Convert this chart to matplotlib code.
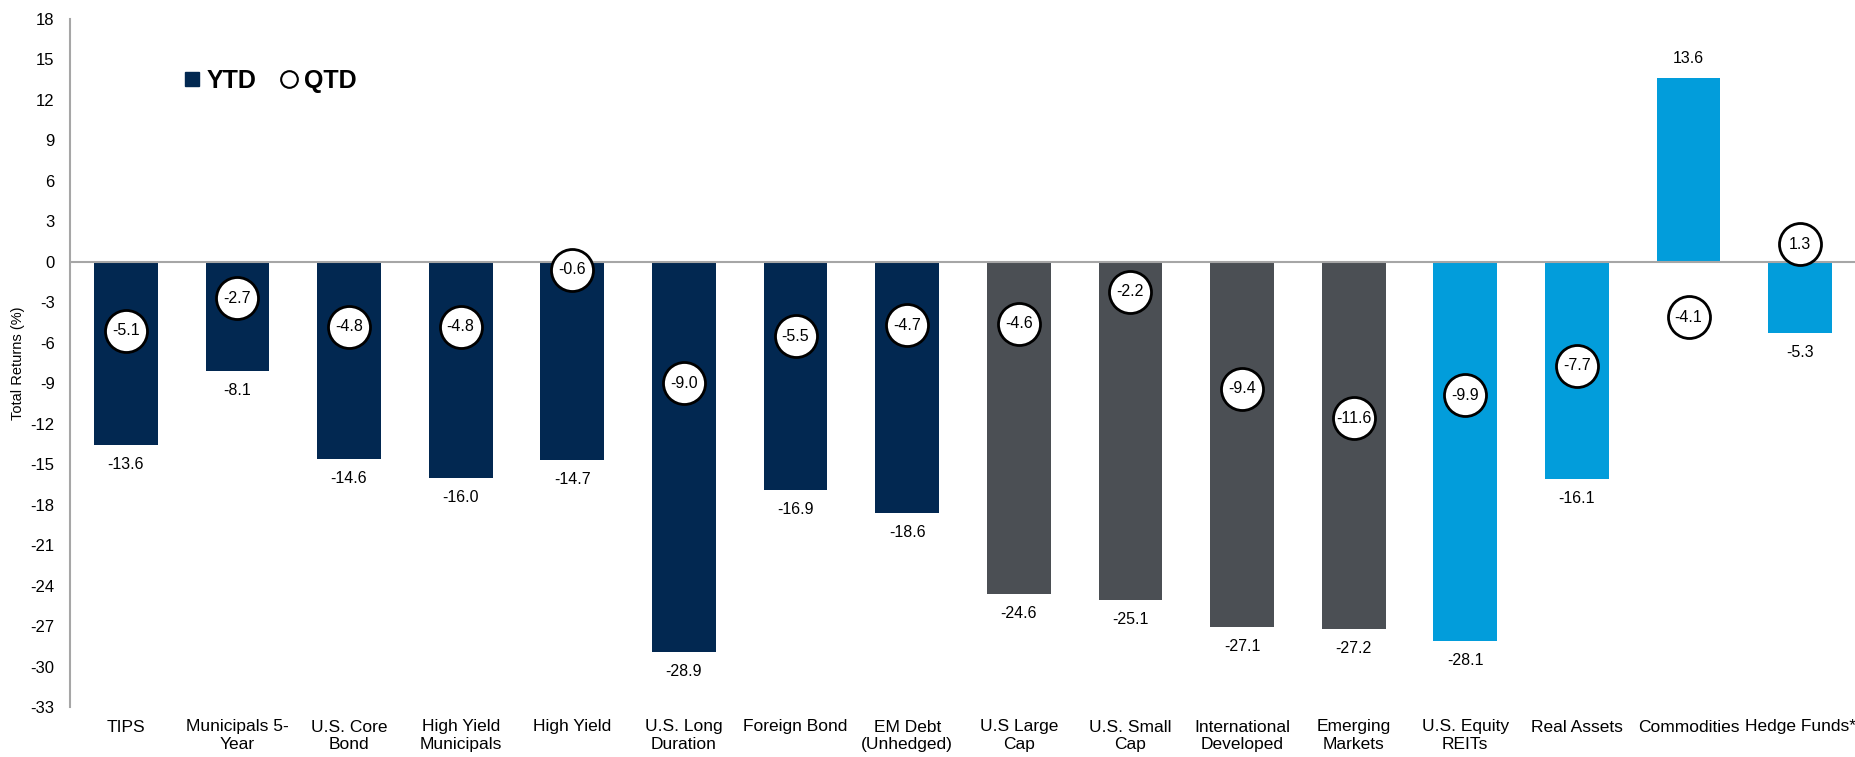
import matplotlib
matplotlib.use("Agg")
import matplotlib.pyplot as plt
from matplotlib.lines import Line2D

plt.rcParams['font.family'] = ['Liberation Sans', 'DejaVu Sans']

categories = ["TIPS", "Municipals 5-\nYear", "U.S. Core\nBond", "High Yield\nMunicipals",
              "High Yield", "U.S. Long\nDuration", "Foreign Bond", "EM Debt\n(Unhedged)",
              "U.S Large\nCap", "U.S. Small\nCap", "International\nDeveloped", "Emerging\nMarkets",
              "U.S. Equity\nREITs", "Real Assets", "Commodities", "Hedge Funds*"]
ytd = [-13.6, -8.1, -14.6, -16.0, -14.7, -28.9, -16.9, -18.6,
       -24.6, -25.1, -27.1, -27.2, -28.1, -16.1, 13.6, -5.3]
qtd = [-5.1, -2.7, -4.8, -4.8, -0.6, -9.0, -5.5, -4.7,
       -4.6, -2.2, -9.4, -11.6, -9.9, -7.7, -4.1, 1.3]
groups = ["fixed"] * 8 + ["equity"] * 4 + ["real"] * 4
yticks = list(range(-33, 19, 3))

palette = {"fixed": "#022851", "equity": "#4b4f54", "real": "#029ddb"}
colors = [palette[g] for g in groups]

fig = plt.figure(figsize=(18.56, 7.57), dpi=100)
ax = fig.add_axes([70/1856, 50/757, 1 - 70/1856, (707-19)/757])

x = list(range(len(categories)))
ax.bar(x, ytd, width=0.57, color=colors, zorder=2)
ax.axhline(0, color="#a6a6a6", lw=1.5, zorder=3)

ax.scatter(x, qtd, s=42**2 * (72/100)**2, facecolor="white", edgecolor="black",
           linewidth=2, zorder=4)
for xi, q in zip(x, qtd):
    ax.text(xi, q, f"{q:.1f}", ha="center", va="center", fontsize=11.5, zorder=5)

for xi, v in zip(x, ytd):
    off = 14 if v > 0 else -14
    ax.annotate(f"{v:.1f}", (xi, v), xytext=(0, off), textcoords="offset points",
                ha="center", va="center", fontsize=11.5)

ax.set_xlim(-0.5, len(categories) - 0.5)
ax.set_ylim(-33, 18)
ax.set_yticks(yticks)
ax.set_yticklabels([str(t) for t in yticks], fontsize=12)
ax.set_xticks(x)
ax.set_xticklabels(categories, fontsize=12.5, va="top")
ax.tick_params(axis="x", length=0, pad=9)
ax.tick_params(axis="y", length=0, pad=11)
for s in ["top", "right", "bottom"]:
    ax.spines[s].set_visible(False)
ax.spines["left"].set_color("#a6a6a6")
ax.spines["left"].set_linewidth(1.5)
ax.set_ylabel("Total Returns (%)", fontsize=10.5, labelpad=4)

handles = [Line2D([], [], marker="s", linestyle="none", markersize=10.5,
                  markerfacecolor="#022851", markeredgecolor="#022851"),
           Line2D([], [], marker="o", linestyle="none", markersize=12,
                  markerfacecolor="white", markeredgecolor="black", markeredgewidth=1.5)]
leg = ax.legend(handles, ["YTD", "QTD"], ncol=2, frameon=False, loc="upper left",
                bbox_to_anchor=(0.05, 0.96), handlelength=0.8, handletextpad=0.2,
                columnspacing=0.9, prop={"weight": "bold", "size": 18})

fig.savefig("out.png", dpi=100)
